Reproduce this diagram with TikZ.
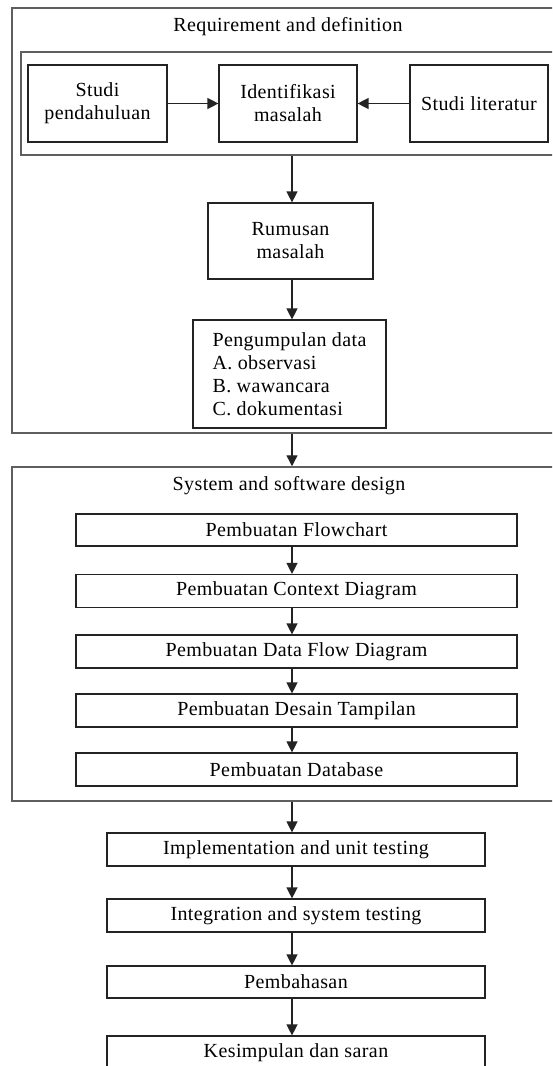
\documentclass[tikz,border=0pt]{standalone}
\usepackage{fontspec}
\setmainfont{Liberation Serif}[LetterSpace=2]
\definecolor{flowline}{RGB}{35,35,35}
\definecolor{zoneline}{RGB}{95,95,95}
\usetikzlibrary{arrows.meta,positioning,calc}

\begin{document}
\begin{tikzpicture}[x=1pt,y=-1pt,
  flowzone/.style={draw=zoneline,line width=1.5pt,inner sep=0pt},
  flowitem/.style={draw=flowline,line width=1.2pt,align=center,inner sep=2pt,
    font=\fontsize{20}{23}\selectfont},
  flowtitle/.style={font=\fontsize{20}{23}\selectfont,inner sep=0pt},
  flowarrow/.style={-{Triangle[length=11pt,width=11pt]},line width=1.3pt,flowline}
]
  \useasboundingbox (0,0) rectangle (552,1066);
  \clip (0,0) rectangle (552,1066);
  \fill[white] (0,0) rectangle (552,1066);
  \coordinate (spine) at (292,0);

  % Requirement zone
  \node[flowzone,minimum width=548,minimum height=425] (reqzone) at (286,220.5) {};
  \node[flowtitle] (reqtitle) at (288,27) {Requirement and definition};
  \node[flowzone,minimum width=539,minimum height=103] (studyzone) at (290.5,103.5) {};
  \node[flowitem,minimum width=139,minimum height=77] (prelim) at (97.5,103.5) {Studi\\pendahuluan};
  \node[flowitem,minimum width=138,minimum height=77] (ident) at (288,103.5) {Identifikasi\\masalah};
  \node[flowitem,minimum width=138,minimum height=77] (lit) at (479,103.5) {Studi literatur};
  \node[flowitem,minimum width=165,minimum height=76] (rumusan) at (290.5,241) {Rumusan\\masalah};
  \node[flowitem,minimum width=193,minimum height=108,align=left,inner xsep=7pt] (datacoll) at (289.5,374)
    {Pengumpulan data\\A. observasi\\B. wawancara\\C. dokumentasi};

  % Design zone
  \node[flowzone,minimum width=548,minimum height=334] (designzone) at (286,634) {};
  \node[flowtitle] (designtitle) at (289,486) {System and software design};
  \node[flowitem,minimum width=441,minimum height=32] (flowchart) at (296.5,530) {Pembuatan Flowchart};
  \node[flowitem,minimum width=441,minimum height=33] (context) at (296.5,591) {Pembuatan Context Diagram};
  \node[flowitem,minimum width=441,minimum height=33] (dfd) at (296.5,651.5) {Pembuatan Data Flow Diagram};
  \node[flowitem,minimum width=441,minimum height=33] (desain) at (296.5,710.5) {Pembuatan Desain Tampilan};
  \node[flowitem,minimum width=441,minimum height=33] (database) at (296.5,769.5) {Pembuatan Database};

  % Remaining steps
  \node[flowitem,minimum width=378,minimum height=33] (implement) at (296,849.5) {Implementation and unit testing};
  \node[flowitem,minimum width=378,minimum height=33] (integrate) at (296,915.5) {Integration and system testing};
  \node[flowitem,minimum width=378,minimum height=32] (bahas) at (296,982) {Pembahasan};
  \node[flowitem,minimum width=378,minimum height=33] (simpul) at (296,1052.5) {Kesimpulan dan saran};

  % Arrows
  \draw[flowarrow] (prelim.east) -- (ident.west);
  \draw[flowarrow] (lit.west) -- (ident.east);
  \draw[flowarrow] (studyzone.south -| spine) -- (rumusan.north -| spine);
  \draw[flowarrow] (rumusan.south -| spine) -- (datacoll.north -| spine);
  \draw[flowarrow] (reqzone.south -| spine) -- (designzone.north -| spine);
  \draw[flowarrow] (flowchart.south -| spine) -- (context.north -| spine);
  \draw[flowarrow] (context.south -| spine) -- (dfd.north -| spine);
  \draw[flowarrow] (dfd.south -| spine) -- (desain.north -| spine);
  \draw[flowarrow] (desain.south -| spine) -- (database.north -| spine);
  \draw[flowarrow] (designzone.south -| spine) -- (implement.north -| spine);
  \draw[flowarrow] (implement.south -| spine) -- (integrate.north -| spine);
  \draw[flowarrow] (integrate.south -| spine) -- (bahas.north -| spine);
  \draw[flowarrow] (bahas.south -| spine) -- (simpul.north -| spine);
\end{tikzpicture}
\end{document}
